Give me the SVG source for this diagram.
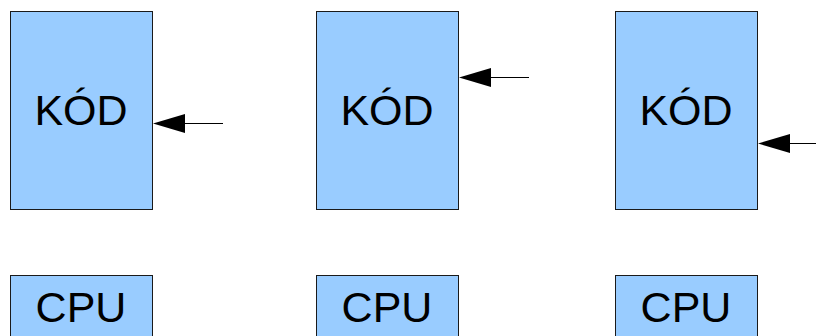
<svg xmlns="http://www.w3.org/2000/svg" width="816" height="336" viewBox="0 0 816 336">
<style>
.box{fill:#99ccff;stroke:#1a1a1a;stroke-width:1}
.lbl{font-family:"Liberation Sans",Arial,sans-serif;font-size:43px;fill:#000;text-anchor:middle}
.conn{stroke:#000;stroke-width:1;fill:none}
</style>
<defs>
<marker id="ah" markerUnits="userSpaceOnUse" markerWidth="32" markerHeight="20" refX="0" refY="10" orient="auto-start-reverse" viewBox="0 0 32 20">
<path d="M0,10 L32,0 L32,20 Z" fill="#000"/>
</marker>
</defs>
<rect width="816" height="336" fill="#fff"/>
<g id="kod1"><rect class="box" x="10.5" y="11.5" width="142" height="198"/><text class="lbl" x="81" y="125">KÓD</text></g>
<g id="kod2"><rect class="box" x="316.5" y="11.5" width="142" height="198"/><text class="lbl" x="387" y="125">KÓD</text></g>
<g id="kod3"><rect class="box" x="615.5" y="11.5" width="142" height="198"/><text class="lbl" x="686" y="125">KÓD</text></g>
<g id="cpu1"><rect class="box" x="10.5" y="275.5" width="142" height="80"/><text class="lbl" x="81" y="322">CPU</text></g>
<g id="cpu2"><rect class="box" x="316.5" y="275.5" width="142" height="80"/><text class="lbl" x="387" y="322">CPU</text></g>
<g id="cpu3"><rect class="box" x="615.5" y="275.5" width="142" height="80"/><text class="lbl" x="686" y="322">CPU</text></g>
<g id="connectors">
<path class="conn" d="M223,123.5 L184,123.5"/>
<path d="M153,123.5 L185,114 L185,133 Z" fill="#000"/>
<path class="conn" d="M529,77.5 L490,77.5"/>
<path d="M459,77.5 L491,68 L491,87 Z" fill="#000"/>
<path class="conn" d="M816,143.5 L788,143.5"/>
<path d="M758,143.5 L790,134 L790,153 Z" fill="#000"/>
</g>
</svg>
